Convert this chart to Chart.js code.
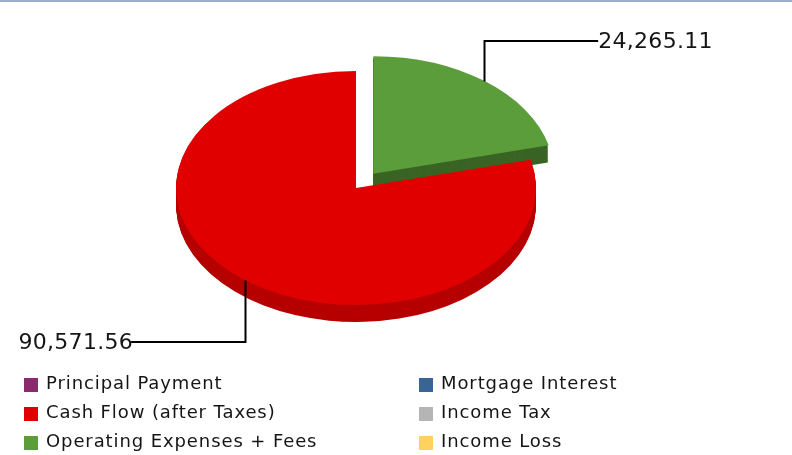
<!DOCTYPE html>
<html>
<head>
<meta charset="utf-8">
<script src="https://cdn.jsdelivr.net/npm/chart.js@4.4.0/dist/chart.umd.min.js"></script>
<style>
  html, body { margin: 0; padding: 0; background: #fff; }
  #wrap { position: relative; width: 792px; height: 455px; overflow: hidden; }
  #topline { position: absolute; left: 0; top: 0; width: 792px; height: 2px; background: #9dadc6; }
  #pie { position: absolute; left: 0; top: 0; }
  #legend { position: absolute; left: 0; top: 0; font-family: "DejaVu Sans", Verdana, sans-serif; font-size: 18px; color: #151515; }
  .item { position: absolute; height: 29px; line-height: 29px; white-space: nowrap; }
  .item .box { position: absolute; left: 0; top: 10px; width: 14px; height: 14px; }
  .item .txt { position: absolute; left: 22px; top: 0; letter-spacing: 0.9px; }
</style>
</head>
<body>
<div id="wrap">
  <canvas id="pie" width="792" height="455"></canvas>
  <div id="topline"></div>
  <div id="legend"></div>
</div>
<script>
const categories = ['Principal Payment', 'Mortgage Interest', 'Cash Flow (after Taxes)', 'Income Tax', 'Operating Expenses + Fees', 'Income Loss'];
const amounts = [0, 0, 90571.56, 0, 24265.11, 0];
const sliceColors = ['#8b2a6c', '#386498', '#e10000', '#b5b5b5', '#5b9c3b', '#ffd25e'];
const sideColors = ['#5e1c49', '#27446a', '#b60000', '#888888', '#3a6424', '#c9a446'];
const explode = [0, 0, 0, 0, 112, 0];

const TILT = 0.65;   // vertical squash of the pie disc
const DEPTH = 17;    // thickness of the disc in px

const total = amounts.reduce((a, b) => a + b, 0);
// first non-empty slice starts right after the exploded one
const startRotation = 360 * amounts[4] / total;

function fmt(v) {
  return v.toLocaleString('en-US', { minimumFractionDigits: 2, maximumFractionDigits: 2 });
}

function squash(ctx, cy) {
  ctx.translate(0, cy);
  ctx.scale(1, TILT);
  ctx.translate(0, -cy);
}

function sliceCenter(arc) {
  const off = (arc.options.offset || 0) / 4;
  const mid = (arc.startAngle + arc.endAngle) / 2;
  return { x: arc.x + Math.cos(mid) * off, y: arc.y + Math.sin(mid) * off, mid };
}

const pie3d = {
  id: 'pie3d',
  beforeDatasetsDraw(chart) {
    const ctx = chart.ctx;
    const arcs = chart.getDatasetMeta(0).data;
    const cy = arcs[0].y;

    // side walls: stack the slice shape downwards in the darker colour
    arcs.forEach((arc, i) => {
      if (!amounts[i]) return;
      const c = sliceCenter(arc);
      ctx.fillStyle = sideColors[i];
      for (let d = DEPTH; d > 0; d--) {
        ctx.save();
        ctx.translate(0, d);
        squash(ctx, cy);
        ctx.beginPath();
        ctx.moveTo(c.x, c.y);
        ctx.arc(c.x, c.y, arc.outerRadius, arc.startAngle, arc.endAngle);
        ctx.closePath();
        ctx.fill();
        ctx.restore();
      }
    });

    // top faces are drawn by Chart.js under the squashed transform
    ctx.save();
    squash(ctx, cy);
  },
  afterDatasetsDraw(chart) {
    chart.ctx.restore();
  },
  afterDraw(chart) {
    const ctx = chart.ctx;
    const arcs = chart.getDatasetMeta(0).data;
    const cy = arcs[0].y;
    ctx.save();
    ctx.strokeStyle = '#000';
    ctx.lineWidth = 2;
    ctx.fillStyle = '#151515';
    ctx.font = '22px "DejaVu Sans", Verdana, sans-serif';
    ctx.letterSpacing = '0.3px';
    ctx.textBaseline = 'middle';
    arcs.forEach((arc, i) => {
      if (!amounts[i]) return;
      const c = sliceCenter(arc);
      const px = c.x + Math.cos(c.mid) * arc.outerRadius;
      const py = cy + (c.y + Math.sin(c.mid) * arc.outerRadius - cy) * TILT;
      const up = Math.sin(c.mid) < 0;
      const right = Math.cos(c.mid) > 0;
      const ly = up ? 41 : 342;
      const lx = right ? px + 114 : px - 114;
      ctx.beginPath();
      ctx.moveTo(Math.round(px) + 0.5, py);
      ctx.lineTo(Math.round(px) + 0.5, ly);
      ctx.lineTo(lx, ly);
      ctx.stroke();
      ctx.textAlign = right ? 'left' : 'right';
      ctx.fillText(fmt(amounts[i]), right ? lx : lx + 2, ly + 1);
    });
    ctx.restore();
  }
};

new Chart(document.getElementById('pie').getContext('2d'), {
  type: 'pie',
  data: {
    labels: categories,
    datasets: [{
      data: amounts,
      backgroundColor: sliceColors,
      borderWidth: 0,
      offset: explode,
      clip: false
    }]
  },
  options: {
    responsive: false,
    animation: false,
    rotation: startRotation,
    radius: 180,
    layout: { padding: { left: 0, right: 80, top: 0, bottom: 79 } },
    events: [],
    plugins: {
      legend: { display: false },
      tooltip: { enabled: false }
    }
  },
  plugins: [pie3d]
});

// two-column legend under the pie
const legend = document.getElementById('legend');
categories.forEach((name, i) => {
  const col = i % 2, row = Math.floor(i / 2);
  const item = document.createElement('div');
  item.className = 'item';
  item.style.left = (col ? 419 : 24) + 'px';
  item.style.top = (368 + row * 29) + 'px';
  item.innerHTML = '<span class="box" style="background:' + sliceColors[i] + '"></span><span class="txt">' + name + '</span>';
  legend.appendChild(item);
});
</script>
</body>
</html>
